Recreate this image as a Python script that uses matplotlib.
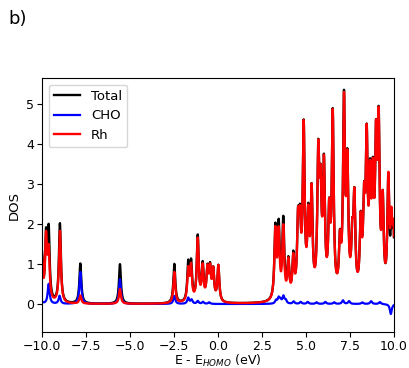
import matplotlib
matplotlib.use("Agg")
import matplotlib.pyplot as plt
import numpy as np

# peak levels (eV) and heights
rh_levels = [-10.02, -9.77, -9.62, -8.98, -7.82, -5.57, -2.48, -1.69, -1.53,
             -1.15, -0.87, -0.60, -0.45, -0.27, 0.02,
             3.26, 3.45, 3.71, 4.00, 4.28, 4.55, 4.66, 4.87, 5.13, 5.32,
             5.70, 5.83, 6.02, 6.32, 6.52, 6.93, 7.16, 7.35, 7.63, 7.75,
             8.11, 8.30, 8.45, 8.64, 8.80, 8.98, 9.13, 9.36, 9.68, 9.85, 9.97]
rh_heights = [1.2, 1.55, 1.2, 1.8, 0.2, 0.37, 0.78, 0.78, 0.85,
              1.55, 0.85, 0.75, 0.75, 0.75, 0.9,
              1.7, 1.6, 1.75, 0.9, 0.95, 1.7, 1.5, 4.15, 1.8, 2.5,
              3.3, 2.3, 3.1, 1.9, 4.45, 1.2, 4.7, 3.1, 1.2, 2.3,
              1.7, 2.0, 3.6, 2.5, 2.5, 3.4, 3.95, 2.2, 2.8, 1.6, 1.5]

cho_levels = [-10.0, -9.62, -9.0, -7.82, -5.57, -2.48, -1.69, -1.50, -1.15,
              -0.85, -0.50, 3.30, 3.45, 3.55, 3.72, 3.85, 4.30, 4.70, 5.10,
              5.60, 6.10, 6.60, 7.10, 7.45, 8.20, 8.70, 9.20, 9.82]
cho_heights = [0.05, 0.5, 0.2, 0.8, 0.62, 0.2, 0.15, 0.1, 0.07,
               0.05, 0.04, 0.08, 0.14, 0.08, 0.18, 0.08, 0.06, 0.05, 0.05,
               0.04, 0.05, 0.04, 0.09, 0.07, 0.04, 0.07, 0.05, -0.25]

x_ticks = [-10.0, -7.5, -5.0, -2.5, 0.0, 2.5, 5.0, 7.5, 10.0]
y_ticks = [0, 1, 2, 3, 4, 5]


def broaden(levels, heights, e, gamma=0.065):
    out = np.zeros_like(e)
    for lv, h in zip(levels, heights):
        out += h * gamma**2 / ((e - lv)**2 + gamma**2)
    return out


energy = np.linspace(-10, 10, 4001)
rh = broaden(rh_levels, rh_heights, energy)
cho = broaden(cho_levels, cho_heights, energy)
total = rh + cho

fig = plt.figure(figsize=(4.1, 3.68), dpi=100)
ax = fig.add_axes([0.1024, 0.0978, 0.8585, 0.6902])
ax.plot(energy, total, color='black', lw=1.7, label='Total')
ax.plot(energy, cho, color='blue', lw=1.6, label='CHO')
ax.plot(energy, rh, color='red', lw=1.7, label='Rh')

ax.set_xlim(-10, 10)
ax.set_ylim(-0.7, 5.65)
ax.set_xticks(x_ticks)
ax.set_yticks(y_ticks)
ax.tick_params(labelsize=9, pad=2)
ax.set_xlabel('E - E$_{HOMO}$ (eV)', fontsize=9, labelpad=0)
ax.set_ylabel('DOS', fontsize=9.5)
ax.legend(loc='upper left', fontsize=9.5, handlelength=2.0)

fig.text(0.02, 0.935, 'b)', fontsize=13)

fig.savefig('out.png', dpi=100)
